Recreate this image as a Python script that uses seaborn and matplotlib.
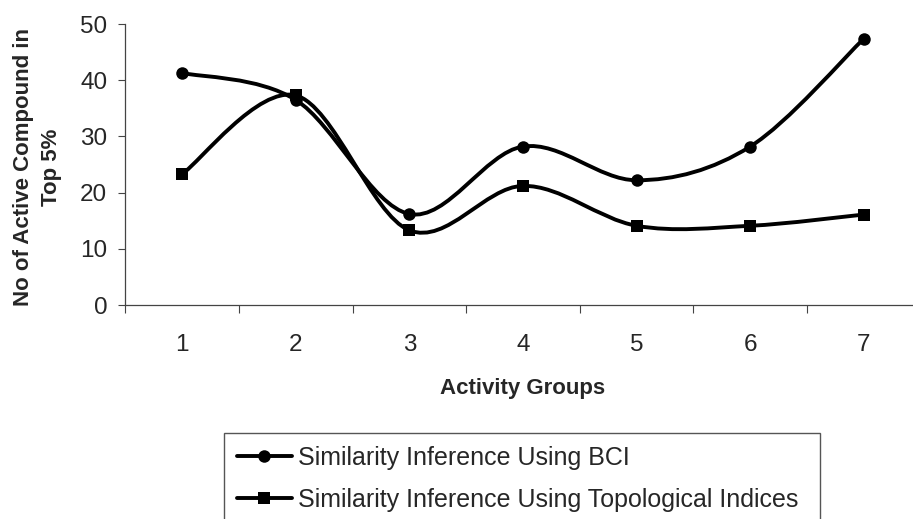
import numpy as np
import pandas as pd
import matplotlib
matplotlib.use("Agg")
import matplotlib.pyplot as plt
from matplotlib.path import Path
from matplotlib.patches import PathPatch
from matplotlib.lines import Line2D
import seaborn as sns

groups = [1, 2, 3, 4, 5, 6, 7]
bci = [41.3, 36.5, 16.2, 28.2, 22.2, 28.2, 47.4]
topo = [23.3, 37.3, 13.3, 21.2, 14.1, 14.1, 16.1]
series_names = ["Similarity Inference Using BCI",
                "Similarity Inference Using Topological Indices"]
markers = ["o", "s"]

sns.set_style("white")
plt.rcParams["font.family"] = ["Liberation Sans", "DejaVu Sans"]

df = pd.DataFrame({"group": groups * 2,
                   "value": bci + topo,
                   "series": [series_names[0]] * 7 + [series_names[1]] * 7})


def smooth_path(xs, ys):
    # excel style smoothed line: catmull-rom segments as cubic beziers
    pts = np.column_stack([xs, ys]).astype(float)
    p = np.vstack([pts[0], pts, pts[-1]])
    verts = [pts[0]]
    codes = [Path.MOVETO]
    for i in range(1, len(p) - 2):
        c1 = p[i] + (p[i + 1] - p[i - 1]) / 6
        c2 = p[i + 1] - (p[i + 2] - p[i]) / 6
        verts += [c1, c2, p[i + 1]]
        codes += [Path.CURVE4] * 3
    return Path(verts, codes)


fig = plt.figure(figsize=(9.13, 5.19), dpi=100)
ax = fig.add_axes([0.1372, 0.4123, 0.8712, 0.5414])

sns.lineplot(data=df, x="group", y="value", style="series",
             markers=dict(zip(series_names, markers)), dashes=False,
             color="black", linewidth=0, markersize=9,
             markeredgewidth=0, legend=False, ax=ax, zorder=3)

for vals in [bci, topo]:
    ax.add_patch(PathPatch(smooth_path(groups, vals), facecolor="none",
                           edgecolor="black", lw=2.8, zorder=2,
                           capstyle="round", joinstyle="round"))

ax.set_xlim(0.5, 7.5)
ax.set_ylim(0, 50)
ax.set_yticks(range(0, 51, 10))
ax.set_xticks(groups)
ax.set_xticks(np.arange(0.5, 8, 1), minor=True)
ax.tick_params(axis="x", which="major", length=0, pad=21, labelsize=17.5)
ax.tick_params(axis="x", which="minor", length=6, width=0.8,
               color="#444444", direction="out")
ax.tick_params(axis="y", length=5, width=0.8, color="#444444",
               direction="out", pad=8, labelsize=17.5)
ax.xaxis.set_tick_params(bottom=True, which="both")
ax.yaxis.set_tick_params(left=True)

for side in ["top", "right"]:
    ax.spines[side].set_visible(False)
for side in ["left", "bottom"]:
    ax.spines[side].set_color("#444444")
    ax.spines[side].set_linewidth(0.9)

ax.set_xlabel("Activity Groups", fontsize=16, fontweight="bold")
ax.xaxis.set_label_coords(0.5, -0.26)
ax.set_ylabel("No of Active Compound in\nTop 5%", fontsize=16,
              fontweight="bold", linespacing=1.4)
ax.yaxis.set_label_coords(-0.08, 0.49)

handles = [Line2D([], [], color="black", lw=2.8, marker=m, markersize=9,
                  markeredgewidth=0) for m in markers]
fig.legend(handles, series_names, loc="upper left",
           bbox_to_anchor=(224 / 913, 1 - 433 / 519, (820 - 224) / 913, 0),
           mode="expand", borderaxespad=0, fontsize=18, handlelength=2.2,
           handletextpad=0.28, borderpad=0.5, labelspacing=0.72,
           fancybox=False, framealpha=1, edgecolor="#555555")

fig.savefig("out.png", dpi=100)
